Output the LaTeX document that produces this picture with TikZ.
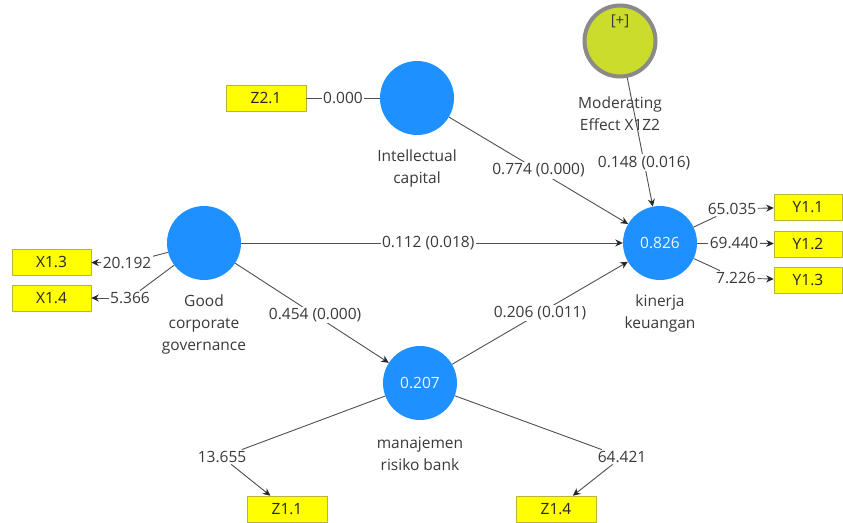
\documentclass[tikz,border=0pt]{standalone}
\usepackage{fontspec}
\setmainfont{Open Sans}
\usetikzlibrary{arrows.meta}
\definecolor{lv}{HTML}{1E90FF}
\definecolor{ind}{HTML}{FFFF00}
\definecolor{indb}{HTML}{B8B830}
\definecolor{modf}{HTML}{CCDC2C}
\definecolor{modb}{HTML}{8A8A8A}
\definecolor{txt}{HTML}{3A3A3A}
\definecolor{ln}{HTML}{505050}
\tikzset{
  lvnode/.style={circle,fill=lv,minimum size=74pt,inner sep=0pt,text=white!92!lv,font=\fontsize{15.5}{18}\selectfont},
  modnode/.style={circle,fill=modf,draw=modb,line width=4pt,minimum size=71pt,inner sep=0pt},
  indbox/.style={rectangle,fill=ind,draw=indb,line width=0.6pt,minimum width=80pt,minimum height=26pt,inner sep=0pt,text=black!85,font=\fontsize{15.5}{18}\selectfont},
  lvlabel/.style={align=center,text=txt,font=\fontsize{15.5}{22}\selectfont},
  lab/.style={fill=white,inner sep=1.5pt,text=txt,font=\fontsize{15.5}{18}\selectfont},
  conn/.style={draw=ln,line width=0.9pt},
  arr/.style={conn,-{Stealth[length=7.5pt,width=7pt,color=black!85]}}
}
\begin{document}
\begin{tikzpicture}[x=1pt,y=-1pt]
\useasboundingbox[fill=white] (0,0) rectangle (843,522);
% latent variables
\node[lvnode] (ic) at (417,98) {};
\node[lvnode] (gcg) at (204,243) {};
\node[lvnode] (kk) at (660,243) {0.826};
\node[lvnode] (mrb) at (420,383) {0.207};
\node[modnode] (mod) at (620,41) {};
\node[text=txt,font=\fontsize{15}{17}\selectfont] (plus) at (620,21) {[+]};
% latent variable labels
\node[lvlabel] (icl) at (417,168) {Intellectual\\capital};
\node[lvlabel] (gcgl) at (204,324) {Good\\corporate\\governance};
\node[lvlabel] (kkl) at (660,313) {kinerja\\keuangan};
\node[lvlabel] (mrbl) at (420,454) {manajemen\\risiko bank};
\node[lvlabel] (modl) at (620,114) {Moderating\\Effect X1Z2};
% indicators
\node[indbox] (z21) at (266,98) {Z2.1};
\node[indbox,minimum width=79pt] (x13) at (51.5,262) {X1.3};
\node[indbox,minimum width=79pt] (x14) at (51.5,298) {X1.4};
\node[indbox,minimum width=68pt] (y11) at (808,207) {Y1.1};
\node[indbox,minimum width=68pt] (y12) at (808,244) {Y1.2};
\node[indbox,minimum width=68pt] (y13) at (808,280) {Y1.3};
\node[indbox] (z11) at (287,509) {Z1.1};
\node[indbox] (z14) at (556,509) {Z1.4};
% structural paths
\draw[arr] (ic) -- node[lab,pos=0.5] {0.774 (0.000)} (kk);
\draw[arr] (gcg) -- node[lab,pos=0.49] {0.112 (0.018)} (kk);
\draw[arr] (gcg) -- node[lab,pos=0.52] {0.454 (0.000)} (mrb);
\draw[arr] (mrb) -- node[lab,pos=0.5] {0.206 (0.011)} (kk);
\draw[arr] (mod) -- node[lab,pos=0.66] {0.148 (0.016)} (kk);
% outer weights / loadings
\node[lab] (l000) at (343,98) {0.000};
\draw[conn] (z21) -- (l000);
\draw[conn] (l000) -- (ic);
\node[lab] (l20192) at (127,263) {20.192};
\draw[conn] (gcg) -- (l20192);
\draw[arr] (l20192) -- (x13);
\node[lab] (l5366) at (130,298) {5.366};
\draw[conn] (gcg) -- (l5366);
\draw[arr] (l5366) -- (x14);
\node[lab] (l65035) at (732,209) {65.035};
\draw[conn] (kk) -- (l65035);
\draw[arr] (l65035) -- (y11);
\node[lab] (l69440) at (734,243) {69.440};
\draw[conn] (kk) -- (l69440);
\draw[arr] (l69440) -- (y12);
\node[lab] (l7226) at (736,278) {7.226};
\draw[conn] (kk) -- (l7226);
\draw[arr] (l7226) -- (y13);
\node[lab] (l13655) at (222,457) {13.655};
\draw[conn] (mrb) -- (l13655);
\draw[arr] (l13655) -- (z11);
\node[lab] (l64421) at (622,457) {64.421};
\draw[conn] (mrb) -- (l64421);
\draw[arr] (l64421) -- (z14);
\end{tikzpicture}
\end{document}
